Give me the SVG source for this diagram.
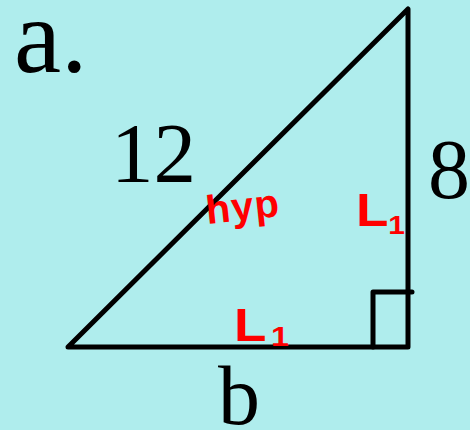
<svg xmlns="http://www.w3.org/2000/svg" width="470" height="430" viewBox="0 0 470 430">
  <style>
    .lbl { font-family: "Liberation Serif", "Times New Roman", serif; fill: #000; }
    .red { font-family: "Liberation Sans", Arial, sans-serif; font-weight: bold; fill: #FF0000; }
    .edge { fill: none; stroke: #000; stroke-width: 5; stroke-linejoin: round; stroke-linecap: round; }
  </style>
  <rect x="0" y="0" width="470" height="430" fill="#AFEDED"/>
  <g id="connectors">
    <polygon id="triangle" class="edge" points="68,347 408,9 408,347"/>
    <path id="right-angle" class="edge" d="M373,347 V292 H412"/>
  </g>
  <g id="title"><text class="lbl" x="14" y="72" font-size="106">a.</text></g>
  <g id="hyp-length"><text class="lbl" x="111" y="182" font-size="85">12</text></g>
  <g id="leg-length"><text class="lbl" x="428" y="198" font-size="84">8</text></g>
  <g id="base-length"><text class="lbl" x="218" y="424" font-size="84">b</text></g>
  <g id="hyp-note"><text class="red" x="206" y="220" font-size="40" letter-spacing="1" transform="rotate(-6 244 210)">hyp</text></g>
  <g id="leg-note"><text class="red" transform="translate(356,226) scale(1.15,1)" font-size="46">L<tspan font-size="26" dy="8" dx="0">1</tspan></text></g>
  <g id="base-note"><text class="red" transform="translate(234,341) scale(1.15,1)" font-size="46">L<tspan font-size="28" dy="5" dx="4">1</tspan></text></g>
</svg>
